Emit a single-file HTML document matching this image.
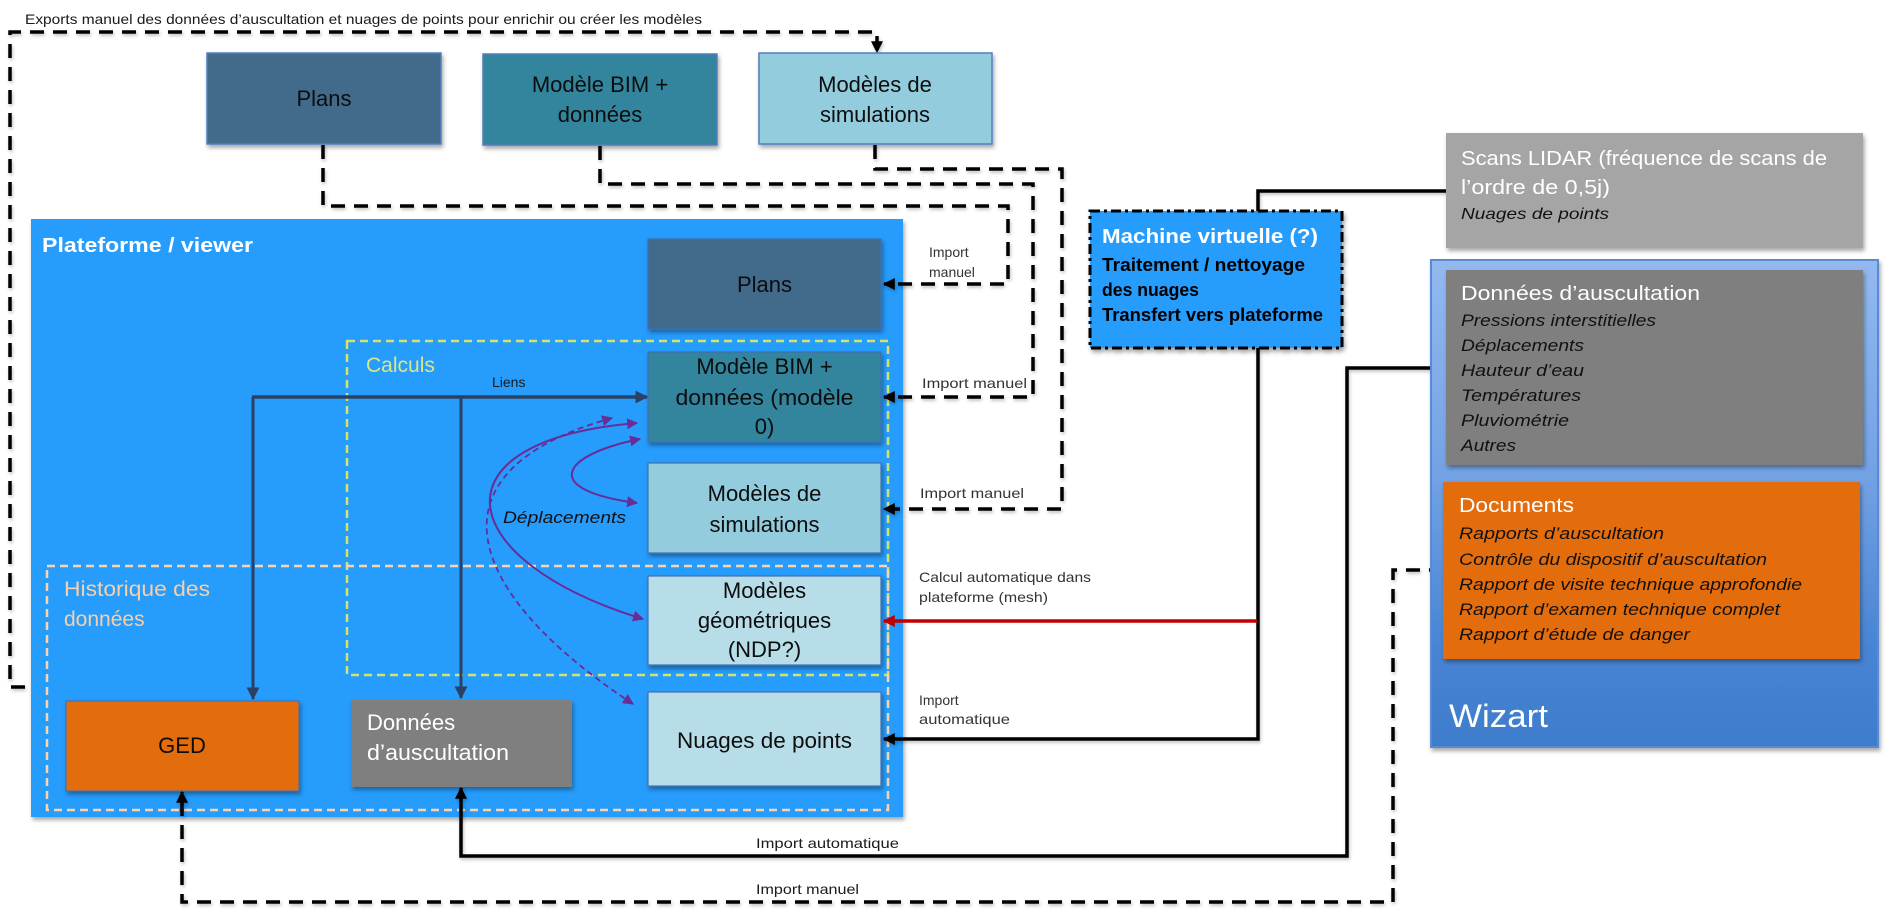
<!DOCTYPE html>
<html>
<head>
<meta charset="utf-8">
<style>
  html,body{margin:0;padding:0;background:#fff;}
  svg{display:block;}
  text{font-family:"Liberation Sans", Arial, sans-serif;}
</style>
</head>
<body>
<svg width="1885" height="914" viewBox="0 0 1885 914" xmlns="http://www.w3.org/2000/svg">
  <defs>
    <filter id="sh" x="-10%" y="-10%" width="125%" height="130%">
      <feDropShadow dx="1.5" dy="3" stdDeviation="2" flood-color="#000" flood-opacity="0.35"/>
    </filter>
    <filter id="shl" x="-10%" y="-10%" width="125%" height="130%">
      <feDropShadow dx="1" dy="2" stdDeviation="1.5" flood-color="#000" flood-opacity="0.25"/>
    </filter>
    <linearGradient id="wiz" x1="0" y1="0" x2="0" y2="1">
      <stop offset="0" stop-color="#93B9F0"/>
      <stop offset="0.45" stop-color="#72A1E4"/>
      <stop offset="0.8" stop-color="#4784D3"/>
      <stop offset="1" stop-color="#3E7DCC"/>
    </linearGradient>
    <marker id="ab" viewBox="0 0 10 10" refX="9" refY="5" markerWidth="12" markerHeight="12" markerUnits="userSpaceOnUse" orient="auto">
      <path d="M0,0 L10,5 L0,10 z" fill="#000"/>
    </marker>
    <marker id="an" viewBox="0 0 10 10" refX="9" refY="5" markerWidth="13" markerHeight="13" markerUnits="userSpaceOnUse" orient="auto">
      <path d="M0,0 L10,5 L0,10 z" fill="#2A4163"/>
    </marker>
    <marker id="ar" viewBox="0 0 10 10" refX="9" refY="5" markerWidth="12" markerHeight="12" markerUnits="userSpaceOnUse" orient="auto">
      <path d="M0,0 L10,5 L0,10 z" fill="#C00000"/>
    </marker>
    <marker id="ap" viewBox="0 0 10 10" refX="9" refY="5" markerWidth="11" markerHeight="11" markerUnits="userSpaceOnUse" orient="auto-start-reverse">
      <path d="M0,0 L10,5 L0,10 z" fill="#6A2C96"/>
    </marker>
  </defs>

  <!-- Top export label -->
  <text x="25" y="24" font-size="14" fill="#1a1a1a" textLength="677" lengthAdjust="spacingAndGlyphs">Exports manuel des données d’auscultation et nuages de points pour enrichir ou créer les modèles</text>

  <!-- Top dashed export connector -->
  <path d="M48,687 L10,687 L10,32 L877,32 L877,52" fill="none" stroke="#000" stroke-width="3.5" stroke-dasharray="14 9" marker-end="url(#ab)" filter="url(#shl)"/>

  <!-- Top boxes -->
  <rect x="207" y="53" width="234" height="91" fill="#436A8B" stroke="#4F7FBF" stroke-width="1.5" filter="url(#sh)"/>
  <text x="324" y="106" font-size="22" text-anchor="middle" fill="#0d0d0d">Plans</text>

  <rect x="483" y="54" width="234" height="91" fill="#31859C" stroke="#4F7FBF" stroke-width="1.5" filter="url(#sh)"/>
  <text x="600" y="92" font-size="22" text-anchor="middle" fill="#0d0d0d">Modèle BIM  +</text>
  <text x="600" y="122" font-size="22" text-anchor="middle" fill="#0d0d0d">données</text>

  <rect x="759" y="53" width="233" height="91" fill="#93CDDD" stroke="#4F7FBF" stroke-width="1.5" filter="url(#sh)"/>
  <text x="875" y="92" font-size="22" text-anchor="middle" fill="#0d0d0d">Modèles de</text>
  <text x="875" y="122" font-size="22" text-anchor="middle" fill="#0d0d0d">simulations</text>

  <!-- Plateforme -->
  <rect x="31" y="219" width="872" height="598" fill="#279CFD" filter="url(#sh)"/>
  <text x="42" y="252" font-size="20" font-weight="bold" fill="#fff" textLength="211" lengthAdjust="spacingAndGlyphs">Plateforme / viewer</text>

  <!-- Calculs dashed -->
  <rect x="347" y="341" width="541" height="334" fill="none" stroke="#D5E36B" stroke-width="2.5" stroke-dasharray="8 5"/>
  <text x="366" y="372" font-size="21" fill="#D9E68A">Calculs</text>

  <!-- Historique dashed -->
  <rect x="47" y="566" width="841" height="244" fill="none" stroke="#FAD3B0" stroke-width="2.5" stroke-dasharray="8 5"/>
  <text x="64" y="596" font-size="21" fill="#F9CFA6" textLength="146" lengthAdjust="spacingAndGlyphs">Historique des</text>
  <text x="64" y="626" font-size="21" fill="#F9CFA6">données</text>

  <!-- Inner boxes -->
  <rect x="648" y="239" width="233" height="90" fill="#436A8B" stroke="#3F6FAE" stroke-width="1.2" filter="url(#sh)"/>
  <text x="764.5" y="292" font-size="22" text-anchor="middle" fill="#0d0d0d">Plans</text>

  <rect x="648" y="352" width="233" height="90" fill="#31859C" stroke="#3F6FAE" stroke-width="1.2" filter="url(#sh)"/>
  <text x="764.5" y="374" font-size="22" text-anchor="middle" fill="#0d0d0d">Modèle BIM  +</text>
  <text x="764.5" y="405" font-size="22" text-anchor="middle" fill="#0d0d0d" textLength="178" lengthAdjust="spacingAndGlyphs">données (modèle</text>
  <text x="764.5" y="434" font-size="22" text-anchor="middle" fill="#0d0d0d">0)</text>

  <rect x="648" y="463" width="233" height="90" fill="#93CDDD" stroke="#3F6FAE" stroke-width="1.2" filter="url(#sh)"/>
  <text x="764.5" y="501" font-size="22" text-anchor="middle" fill="#0d0d0d">Modèles de</text>
  <text x="764.5" y="532" font-size="22" text-anchor="middle" fill="#0d0d0d">simulations</text>

  <rect x="648" y="576" width="233" height="89" fill="#B7DDE8" stroke="#3F6FAE" stroke-width="1.2" filter="url(#sh)"/>
  <text x="764.5" y="598" font-size="22" text-anchor="middle" fill="#0d0d0d">Modèles</text>
  <text x="764.5" y="628" font-size="22" text-anchor="middle" fill="#0d0d0d">géométriques</text>
  <text x="764.5" y="657" font-size="22" text-anchor="middle" fill="#0d0d0d">(NDP?)</text>

  <rect x="648" y="692" width="233" height="94" fill="#B7DDE8" stroke="#3F6FAE" stroke-width="1.2" filter="url(#sh)"/>
  <text x="764.5" y="748" font-size="22" text-anchor="middle" fill="#0d0d0d" textLength="175" lengthAdjust="spacingAndGlyphs">Nuages de points</text>

  <rect x="66" y="701" width="233" height="90" fill="#E36C0A" stroke="#3F6FAE" stroke-width="1" filter="url(#sh)"/>
  <text x="182" y="753" font-size="22" text-anchor="middle" fill="#0d0d0d">GED</text>

  <rect x="351" y="700" width="221" height="87" fill="#7F7F7F" filter="url(#sh)"/>
  <text x="367" y="730" font-size="22" fill="#fff">Données</text>
  <text x="367" y="760" font-size="22" fill="#fff" textLength="142" lengthAdjust="spacingAndGlyphs">d’auscultation</text>

  <!-- Liens -->
  <text x="492" y="387" font-size="14" fill="#1a1a1a">Liens</text>
  <path d="M253,397 L253,699" fill="none" stroke="#2A4163" stroke-width="3" marker-end="url(#an)"/>
  <path d="M461,397 L461,698" fill="none" stroke="#2A4163" stroke-width="3" marker-end="url(#an)"/>
  <path d="M252,397 L647,397" fill="none" stroke="#2A4163" stroke-width="3.5" marker-end="url(#an)"/>

  <!-- Purple curves -->
  <path d="M633,704 C460,590 425,470 612,418" fill="none" stroke="#6A2C96" stroke-width="1.8" stroke-dasharray="6 4" marker-start="url(#ap)" marker-end="url(#ap)"/>
  <path d="M643,619 C450,560 430,440 637,423" fill="none" stroke="#6A2C96" stroke-width="2" marker-start="url(#ap)" marker-end="url(#ap)"/>
  <path d="M640,439 C560,455 540,490 637,503" fill="none" stroke="#6A2C96" stroke-width="2" marker-start="url(#ap)" marker-end="url(#ap)"/>
  <text x="503" y="523" font-size="17" font-style="italic" fill="#111" textLength="123" lengthAdjust="spacingAndGlyphs">Déplacements</text>

  <!-- Import manuel dashed connectors from top boxes -->
  <path d="M323,145 L323,206 L1008,206 L1008,284 L884,284" fill="none" stroke="#000" stroke-width="3.5" stroke-dasharray="14 9" marker-end="url(#ab)" filter="url(#shl)"/>
  <path d="M600,146 L600,184 L1033,184 L1033,397 L884,397" fill="none" stroke="#000" stroke-width="3.5" stroke-dasharray="14 9" marker-end="url(#ab)" filter="url(#shl)"/>
  <path d="M875,145 L875,169 L1062,169 L1062,509 L884,509" fill="none" stroke="#000" stroke-width="3.5" stroke-dasharray="14 9" marker-end="url(#ab)" filter="url(#shl)"/>

  <text x="929" y="257" font-size="14" fill="#333">Import</text>
  <text x="929" y="277" font-size="14" fill="#333">manuel</text>
  <text x="922" y="388" font-size="14" fill="#333" textLength="105" lengthAdjust="spacingAndGlyphs">Import manuel</text>
  <text x="920" y="498" font-size="14" fill="#333" textLength="104" lengthAdjust="spacingAndGlyphs">Import manuel</text>
  <text x="919" y="582" font-size="14" fill="#333" textLength="172" lengthAdjust="spacingAndGlyphs">Calcul automatique dans</text>
  <text x="919" y="602" font-size="14" fill="#333" textLength="129" lengthAdjust="spacingAndGlyphs">plateforme (mesh)</text>
  <text x="919" y="705" font-size="14" fill="#333">Import</text>
  <text x="919" y="724" font-size="14" fill="#333" textLength="91" lengthAdjust="spacingAndGlyphs">automatique</text>

  <!-- Machine virtuelle -->
  <rect x="1090" y="211" width="252" height="137" fill="#279CFD" stroke="#000" stroke-width="3" stroke-dasharray="10 4 3 4" filter="url(#sh)"/>
  <text x="1102" y="243" font-size="20" font-weight="bold" fill="#fff" textLength="216" lengthAdjust="spacingAndGlyphs">Machine virtuelle (?)</text>
  <text x="1102" y="271" font-size="18" font-weight="bold" fill="#000" textLength="203" lengthAdjust="spacingAndGlyphs">Traitement / nettoyage</text>
  <text x="1102" y="296" font-size="18" font-weight="bold" fill="#000" textLength="97" lengthAdjust="spacingAndGlyphs">des nuages</text>
  <text x="1102" y="321" font-size="18" font-weight="bold" fill="#000" textLength="221" lengthAdjust="spacingAndGlyphs">Transfert vers plateforme</text>

  <!-- Black connectors -->
  <path d="M1446,191 L1258,191 L1258,211" fill="none" stroke="#000" stroke-width="3.5" filter="url(#shl)"/>
  <path d="M1258,348 L1258,739 L884,739" fill="none" stroke="#000" stroke-width="3.5" marker-end="url(#ab)" filter="url(#shl)"/>
  <path d="M1257,621 L884,621" fill="none" stroke="#C00000" stroke-width="3.5" marker-end="url(#ar)"/>
  <path d="M1446,368 L1347,368 L1347,856 L461,856 L461,788" fill="none" stroke="#000" stroke-width="3.5" marker-end="url(#ab)" filter="url(#shl)"/>
  <text x="756" y="848" font-size="14" fill="#1a1a1a" textLength="143" lengthAdjust="spacingAndGlyphs">Import automatique</text>

  <path d="M1443,570 L1393,570 L1393,902 L182,902 L182,792" fill="none" stroke="#000" stroke-width="3.5" stroke-dasharray="14 9" marker-end="url(#ab)" filter="url(#shl)"/>
  <text x="756" y="894" font-size="14" fill="#1a1a1a" textLength="103" lengthAdjust="spacingAndGlyphs">Import manuel</text>

  <!-- Scans LIDAR -->
  <rect x="1446" y="133" width="417" height="115" fill="#A5A5A5" filter="url(#sh)"/>
  <text x="1461" y="165" font-size="20" fill="#fff" textLength="366" lengthAdjust="spacingAndGlyphs">Scans LIDAR (fréquence de scans de</text>
  <text x="1461" y="194" font-size="20" fill="#fff" textLength="149" lengthAdjust="spacingAndGlyphs">l’ordre de 0,5j)</text>
  <text x="1461" y="219" font-size="16" font-style="italic" fill="#111" textLength="148" lengthAdjust="spacingAndGlyphs">Nuages de points</text>

  <!-- Wizart -->
  <rect x="1431" y="260" width="447" height="487" fill="url(#wiz)" stroke="#5A8AD0" stroke-width="2" filter="url(#sh)"/>
  <rect x="1446" y="270" width="417" height="195" fill="#7F7F7F" filter="url(#sh)"/>
  <text x="1461" y="300" font-size="20" fill="#fff" textLength="239" lengthAdjust="spacingAndGlyphs">Données d’auscultation</text>
  <text x="1461" y="326" font-size="17" font-style="italic" fill="#111" textLength="195" lengthAdjust="spacingAndGlyphs">Pressions interstitielles</text>
  <text x="1461" y="351" font-size="17" font-style="italic" fill="#111" textLength="123" lengthAdjust="spacingAndGlyphs">Déplacements</text>
  <text x="1461" y="376" font-size="17" font-style="italic" fill="#111" textLength="123" lengthAdjust="spacingAndGlyphs">Hauteur d’eau</text>
  <text x="1461" y="401" font-size="17" font-style="italic" fill="#111" textLength="120" lengthAdjust="spacingAndGlyphs">Températures</text>
  <text x="1461" y="426" font-size="17" font-style="italic" fill="#111" textLength="108" lengthAdjust="spacingAndGlyphs">Pluviométrie</text>
  <text x="1461" y="451" font-size="17" font-style="italic" fill="#111" textLength="55" lengthAdjust="spacingAndGlyphs">Autres</text>

  <rect x="1443" y="482" width="417" height="177" fill="#E36C0A" filter="url(#sh)"/>
  <text x="1459" y="512" font-size="20" fill="#fff" textLength="115" lengthAdjust="spacingAndGlyphs">Documents</text>
  <text x="1459" y="539" font-size="17" font-style="italic" fill="#111" textLength="205" lengthAdjust="spacingAndGlyphs">Rapports d’auscultation</text>
  <text x="1459" y="565" font-size="17" font-style="italic" fill="#111" textLength="308" lengthAdjust="spacingAndGlyphs">Contrôle du dispositif d’auscultation</text>
  <text x="1459" y="590" font-size="17" font-style="italic" fill="#111" textLength="343" lengthAdjust="spacingAndGlyphs">Rapport de visite technique approfondie</text>
  <text x="1459" y="615" font-size="17" font-style="italic" fill="#111" textLength="321" lengthAdjust="spacingAndGlyphs">Rapport d’examen technique complet</text>
  <text x="1459" y="640" font-size="17" font-style="italic" fill="#111" textLength="231" lengthAdjust="spacingAndGlyphs">Rapport d’étude de danger</text>

  <text x="1449" y="727" font-size="32" fill="#fff" textLength="99" lengthAdjust="spacingAndGlyphs">Wizart</text>
</svg>
</body>
</html>
